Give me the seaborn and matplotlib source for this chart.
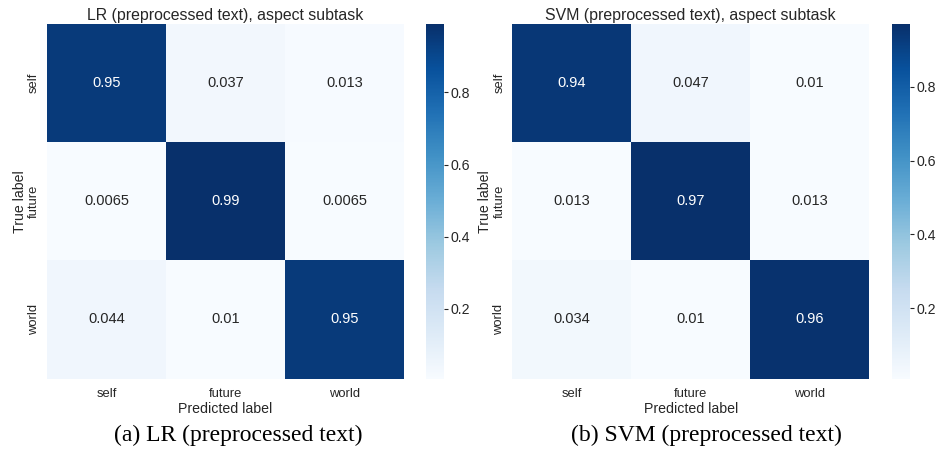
import numpy as np
import pandas as pd
import matplotlib
matplotlib.use("Agg")
import matplotlib.pyplot as plt
import seaborn as sns

labels = ["self", "future", "world"]

lr_matrix = [
    [0.95, 0.037, 0.013],
    [0.0065, 0.99, 0.0065],
    [0.044, 0.01, 0.95],
]
svm_matrix = [
    [0.94, 0.047, 0.01],
    [0.013, 0.97, 0.013],
    [0.034, 0.01, 0.96],
]

titles = ["LR (preprocessed text), aspect subtask",
          "SVM (preprocessed text), aspect subtask"]
captions = ["(a) LR (preprocessed text)", "(b) SVM (preprocessed text)"]

sns.set_theme(style="white")
plt.rcParams["font.family"] = ["Liberation Sans", "DejaVu Sans"]

W, H = 937, 450
fig = plt.figure(figsize=(W / 100, H / 100), dpi=100)


def box(x0, y0, x1, y1):
    return [x0 / W, 1 - y1 / H, (x1 - x0) / W, (y1 - y0) / H]


panels = [
    (lr_matrix, box(47, 24, 404, 378.5), box(425.7, 24, 444, 378.5), 238),
    (svm_matrix, box(512.3, 24, 869.3, 378.5), box(891.7, 24, 910, 378.5), 706),
]

for (mat, ax_box, cb_box, cap_x), title, caption in zip(panels, titles, captions):
    ax = fig.add_axes(ax_box)
    cax = fig.add_axes(cb_box)
    df = pd.DataFrame(mat, index=labels, columns=labels)
    sns.heatmap(df, annot=True, fmt=".2g", cmap="Blues", ax=ax, cbar_ax=cax,
                annot_kws={"fontsize": 10.5})
    ax.set_title(title, fontsize=11.4, color="#262626", pad=3)
    ax.set_xlabel("Predicted label", fontsize=10.2, color="#262626", labelpad=1)
    ax.set_ylabel("True label", fontsize=10.2, color="#262626", labelpad=1)
    ax.tick_params(axis="x", length=0, labelsize=9.4, colors="#262626", pad=7)
    ax.tick_params(axis="y", length=0, labelsize=9.4, colors="#262626", pad=5)
    ax.set_yticklabels(labels, rotation=90, va="center")
    cax.tick_params(length=3, width=0.8, labelsize=10.2, colors="#262626", pad=2)
    cax.set_yticks([0.2, 0.4, 0.6, 0.8])
    for s in cax.spines.values():
        s.set_visible(False)
    fig.text(cap_x / W, 1 - 435 / H, caption, ha="center", va="center",
             fontsize=17, family=["Liberation Serif", "DejaVu Serif"], color="black")

fig.savefig("out.png", dpi=100)
